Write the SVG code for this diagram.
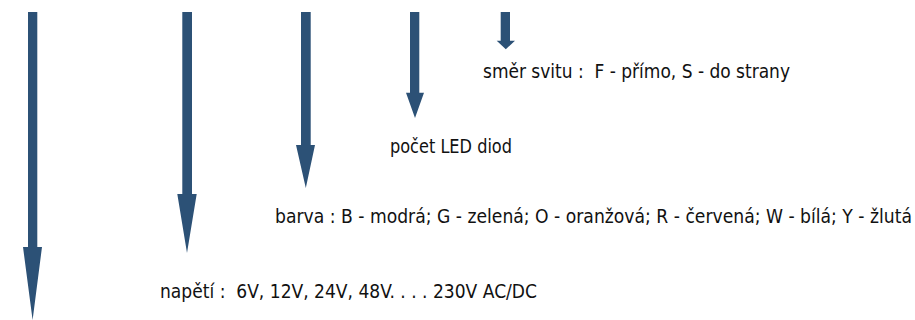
<svg xmlns="http://www.w3.org/2000/svg" width="915" height="320" viewBox="0 0 915 320">
<style>
.arr{fill:#2c5176}
.lbl{font-family:"DejaVu Sans Condensed","DejaVu Sans","Liberation Sans",sans-serif;font-stretch:condensed;font-size:19px;fill:#111;white-space:pre}
</style>
<rect width="915" height="320" fill="#fff"/>
<g id="connectors">
<polygon class="arr" points="28,12 37.3,12 37.3,247 42,247 32.6,320 23,247 28,247"/>
<polygon class="arr" points="182.3,12 192,12 192,194 196.7,194 187,253 177.3,194 182.3,194"/>
<polygon class="arr" points="301,12 310.7,12 310.7,145 315,145 305.8,188 296,145 301,145"/>
<polygon class="arr" points="410,12 419.3,12 419.3,92.7 424,92.7 415,118 406,92.7 410,92.7"/>
<polygon class="arr" points="500.7,12 510,12 510,40.7 515,40.7 505.8,49.3 496.7,40.7 500.7,40.7"/>
</g>
<g id="label-smer"><text class="lbl" xml:space="preserve" x="483" y="78" textLength="307" lengthAdjust="spacingAndGlyphs">směr svitu :  F - přímo, S - do strany</text></g>
<g id="label-pocet"><text class="lbl" x="390" y="153" textLength="122" lengthAdjust="spacingAndGlyphs">počet LED diod</text></g>
<g id="label-barva"><text class="lbl" x="275" y="223" textLength="637" lengthAdjust="spacingAndGlyphs">barva : B - modrá; G - zelená; O - oranžová; R - červená; W - bílá; Y - žlutá</text></g>
<g id="label-napeti"><text class="lbl" xml:space="preserve" x="160" y="298" textLength="377" lengthAdjust="spacingAndGlyphs">napětí :  6V, 12V, 24V, 48V. . . . 230V AC/DC</text></g>
</svg>
